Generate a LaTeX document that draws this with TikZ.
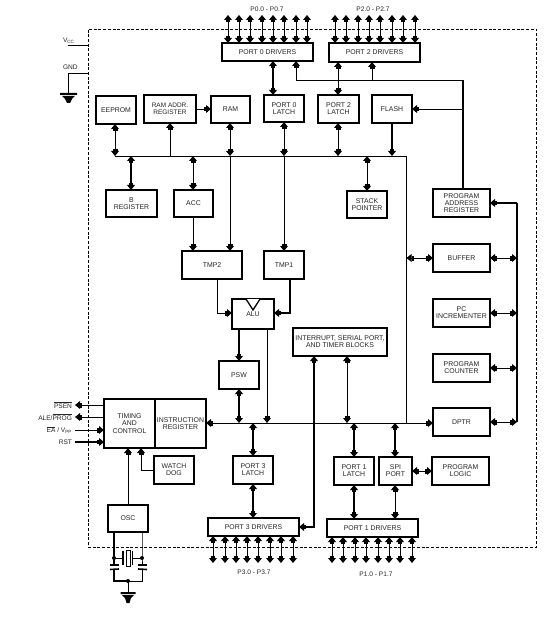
\documentclass[tikz,border=0pt]{standalone}
\usepackage{fontspec}
\setmainfont{Liberation Sans}
\usetikzlibrary{arrows.meta}
\tikzset{
  >={Rectangle[width=4.6pt,length=2.2pt]Triangle[width=7.8pt,length=5pt]},
  box/.style={draw=black,fill=white,line width=1.3pt,inner sep=0pt,outer sep=0pt,align=center,text=black!85,font=\fontsize{6.9}{7.2}\selectfont},
  lbl/.style={inner sep=0pt,outer sep=0pt,text=black!85,font=\fontsize{6.6}{7}\selectfont},
  thin line/.style={line width=.8pt},
  thick line/.style={line width=1.7pt},
  pin line/.style={line width=1pt},
  chipbox/.style={draw=black,dashed,dash pattern=on 3pt off 1.7pt,line width=.8pt,inner sep=0pt,outer sep=0pt},
}
\newcommand\bx[6]{%
  \pgfmathsetmacro\bw{#4-#2}\pgfmathsetmacro\bh{#5-#3}%
  \pgfmathsetmacro\bcx{(#2+#4)/2}\pgfmathsetmacro\bcy{(#3+#5)/2}%
  \node[box,minimum width=\bw pt,minimum height=\bh pt] (#1) at (\bcx,\bcy) {#6};}
\begin{document}
\begin{tikzpicture}[x=1pt,y=-1pt]
\useasboundingbox[fill=white] (0,0) rectangle (548,617);
\node[chipbox,minimum width=448pt,minimum height=518pt] (chip) at (312,288) {};

% boxes
\bx{pzd}{222}{43}{313}{61}{PORT 0 DRIVERS}
\bx{ptd}{329}{43}{420}{62}{PORT 2 DRIVERS}
\bx{eeprom}{96}{96}{136}{124}{EEPROM}
\bx{raddr}{144}{95}{196}{123}{{\fontsize{6.5}{7.2}\selectfont RAM ADDR.}\\{\fontsize{6.5}{7.2}\selectfont REGISTER}}
\bx{ram}{211}{96}{250}{123}{RAM}
\bx{pzl}{264}{95}{304}{122}{PORT 0\\LATCH}
\bx{ptl}{318}{95}{359}{123}{PORT 2\\LATCH}
\bx{flash}{372}{95}{412}{123}{FLASH}
\bx{breg}{106}{190}{157}{217}{B\\REGISTER}
\bx{acc}{174}{190}{213}{217}{ACC}
\bx{sp}{347}{191}{387}{218}{STACK\\POINTER}
\bx{par}{433}{189}{490}{217}{PROGRAM\\ADDRESS\\REGISTER}
\bx{buf}{433}{244}{490}{272}{BUFFER}
\bx{pci}{433}{299}{490}{327}{PC\\INCREMENTER}
\bx{pc}{433}{354}{490}{382}{PROGRAM\\COUNTER}
\bx{dptr}{433}{408}{490}{436}{DPTR}
\bx{plog}{432}{457}{489}{485}{PROGRAM\\LOGIC}
\bx{tmpb}{182}{251}{242}{279}{TMP2}
\bx{tmpa}{264}{251}{304}{279}{TMP1}
\bx{alu}{232}{299}{274}{329}{\raisebox{-3pt}{ALU}}
\bx{irq}{293}{328}{387}{356}{INTERRUPT, SERIAL PORT,\\AND TIMER BLOCKS}
\bx{psw}{219}{361}{259}{389}{PSW}
\bx{tim}{104}{399}{155}{448}{TIMING\\AND\\CONTROL}
\bx{ir}{155}{399}{206}{448}{INSTRUCTION\\REGISTER}
\bx{wd}{154}{456}{194}{484}{WATCH\\DOG}
\bx{osc}{108}{505}{148}{532}{OSC}
\bx{ptl3}{233}{456}{273}{484}{PORT 3\\LATCH}
\bx{pd3}{208}{518}{299}{536}{PORT 3 DRIVERS}
\bx{pl1}{334}{457}{374}{485}{PORT 1\\LATCH}
\bx{spi}{379}{457}{412}{485}{SPI\\PORT}
\bx{pd1}{327}{519}{418}{537}{PORT 1 DRIVERS}

% ALU notch
\fill[white] (246,299) -- (253,310) -- (260,299) -- cycle;
\draw[line width=1.3pt] (246,299) -- (253,310) -- (260,299);

% pins
\foreach \x in {228,239,250,262,273,284,296,307}
  \draw[pin line,<->] (\x,15) -- (\x,0 |- pzd.north);
\foreach \x in {335,346,358,369,380,392,403,415}
  \draw[pin line,<->] (\x,15) -- (\x,0 |- ptd.north);
\foreach \x in {213,225,236,247,258,270,281,293}
  \draw[pin line,<->] (\x,0 |- pd3.south) -- (\x,563);
\foreach \x in {332,343,355,366,378,389,400,412}
  \draw[pin line,<->] (\x,0 |- pd1.south) -- (\x,563);
\node[lbl] (lpz) at (267,9) {P0.0 - P0.7};
\node[lbl] (lpt) at (373,9) {P2.0 - P2.7};
\node[lbl] (lp3) at (254,572) {P3.0 - P3.7};
\node[lbl] (lp1) at (376,574) {P1.0 - P1.7};

% buses
\coordinate (busl) at (115,156);
\coordinate (busr) at (406.5,156);
\coordinate (mainl) at (206,423);
\coordinate (mainj) at (406.5,423);
\draw[thin line] (busl) -- (busr) -- (mainj);
\draw[thin line,<->] (mainl -| ir.east) -- (dptr.west |- mainj);

% top section
\draw[thick line,<->] (273,0 |- pzd.south) -- (273,0 |- pzl.north);
\draw[thin line,<->] (338,0 |- ptd.south) -- (338,0 |- ptl.north);
\coordinate (adr) at (463,80);
\draw[thin line,->] (adr -| 296,0) -- (296,0 |- pzd.south);
\draw[thin line,->] (adr -| 372,0) -- (372,0 |- ptd.south);
\draw[thin line] (adr -| 296,0) -- (adr);
\draw[thick line] (adr) -- (adr |- par.north);
\draw[thin line,->] (adr |- flash.east) -- (flash.east);
\draw[thin line,->] (raddr.east) -- (ram.west |- raddr.east);
\draw[thin line,<->] (115,0 |- eeprom.south) -- (115,0 |- busl);
\draw[thin line,->] (170,0 |- busl) -- (170,0 |- raddr.south);
\draw[thin line,<->] (230,0 |- ram.south) -- (230,0 |- busl);
\draw[thin line,<->] (284,0 |- pzl.south) -- (284,0 |- busl);
\draw[thin line,<->] (338,0 |- ptl.south) -- (338,0 |- busl);
\draw[thick line,->] (392,0 |- flash.south) -- (392,0 |- busl);
\draw[thick line,<->] (131,0 |- busl) -- (131,0 |- breg.north);
\draw[thin line,<->] (193,0 |- busl) -- (193,0 |- acc.north);
\draw[thin line,<->] (367,0 |- busl) -- (367,0 |- sp.north);

% alu section
\draw[thin line,->] (193,0 |- acc.south) -- (193,0 |- tmpb.north);
\draw[thin line,->] (230,0 |- busl) -- (230,0 |- tmpb.north);
\draw[thin line,->] (284,0 |- busl) -- (284,0 |- tmpa.north);
\draw[thin line,->] (217,0 |- tmpb.south) |- (alu.west |- 0,313);
\draw[thick line,->] (290,0 |- tmpa.south) |- (alu.east |- 0,313);
\draw[thick line,->] (239,0 |- alu.south) -- (239,0 |- psw.north);
\draw[thin line,->] (267,0 |- alu.south) -- (267,0 |- mainl);
\draw[thick line,<->] (239,0 |- psw.south) -- (239,0 |- mainl);
\coordinate (irqc) at (314,527);
\draw[thick line,<->] (irqc |- irq.south) -- (irqc) -- (irqc -| pd3.east);
\draw[thin line,<->] (347,0 |- irq.south) -- (347,0 |- mainl);

% right bus
\coordinate (rbt) at (517,203);
\coordinate (rbb) at (517,422);
\draw[thick line] (rbt) -- (rbb);
\draw[thick line,->] (rbt) -- (rbt -| par.east);
\foreach \n/\y in {buf/258,pci/313,pc/368,dptr/422}
  \draw[thin line,<->] (\n.east |- 0,\y) -- (517,\y);
\draw[thin line,<->] (busr |- buf.west) -- (buf.west);

% lower section
\draw[thick line,<->] (253,0 |- mainl) -- (253,0 |- ptl3.north);
\draw[thick line,<->] (253,0 |- ptl3.south) -- (253,0 |- pd3.north);
\draw[thick line,<->] (354,0 |- mainl) -- (354,0 |- pl1.north);
\draw[thick line,<->] (354,0 |- pl1.south) -- (354,0 |- pd1.north);
\draw[thick line,<->] (395,0 |- mainl) -- (395,0 |- spi.north);
\draw[thin line,<->] (395,0 |- spi.south) -- (395,0 |- pd1.north);
\draw[thin line,<->] (spi.east) -- (plog.west |- spi.east);

% timing
\node[lbl,anchor=east] (psen) at (72,405) {$\overline{\mbox{PSEN}}$};
\node[lbl,anchor=east] (ale) at (72,417) {ALE/$\overline{\mbox{PROG}}$};
\node[lbl,anchor=east] (ea) at (72,430) {$\overline{\mbox{EA}}$ / V\textsubscript{PP}};
\node[lbl,anchor=east] (rst) at (72,442) {RST};
\draw[thin line,->] (tim.west |- psen) -- ([xshift=3pt]psen.east);
\draw[thin line,->] (tim.west |- ale) -- ([xshift=3pt]ale.east);
\draw[thin line,->] ([xshift=3pt]ea.east) -- (tim.west |- ea);
\draw[thick line,->] ([xshift=3pt]rst.east) -- (tim.west |- rst);
\draw[thin line,->] (128,0 |- osc.north) -- (128,0 |- tim.south);
\draw[thin line,->] (wd.west |- 0,470) -| (141,0 |- tim.south);

% oscillator
\coordinate (dl) at (114,558);
\coordinate (dr) at (142,558);
\coordinate (gt) at (128,581);
\node[draw=black,line width=.8pt,fill=white,minimum width=4pt,minimum height=16pt,inner sep=0pt,outer sep=0pt] (xt) at (128,558) {};
\draw[thick line] (114,0 |- osc.south) -- (dl) -- (114,565);
\draw[thin line] (142,0 |- osc.south) -- (dr) -- (142,565);
\fill (dl) circle (2pt) (dr) circle (2pt) (gt) circle (2pt);
\draw[thin line] (dl) -- (123,558);
\draw[thin line] (dr) -- (132,558);
\draw[line width=1.1pt] (123,551) -- (123,565) (132.5,551) -- (132.5,565);
\draw[line width=1.6pt] (110,565) -- (119,565) (138,565) -- (147,565);
\draw[line width=1.6pt] (110,569.5) -- (119,569) (138,569) -- (147,569.5);
\draw[thick line] (114,569) -- (114,581) -- (gt);
\draw[thin line] (142,569) -- (142,581) -- (gt);
\draw[thin line] (gt) -- (128,593);
\fill (120.5,592) rectangle (135.5,594) (122,595) -- (134,595) -- (131,598) -- (129.5,603) -- (126.5,603) -- (125,598) -- cycle;

% supply
\node[lbl,anchor=west] (vcc) at (63,41) {V\textsubscript{CC}};
\node[lbl,anchor=west] (gnd) at (63,67) {GND};
\draw[thin line] (68,45) -- (chip.west |- 0,45);
\draw[thin line] (chip.west |- 0,73.5) -- (68,73.5) -- (68,93);
\fill (60,93) rectangle (77,95) (62,96) -- (75,96) -- (72,99) -- (70,103) -- (67,103) -- (65,99) -- cycle;
\end{tikzpicture}
\end{document}
